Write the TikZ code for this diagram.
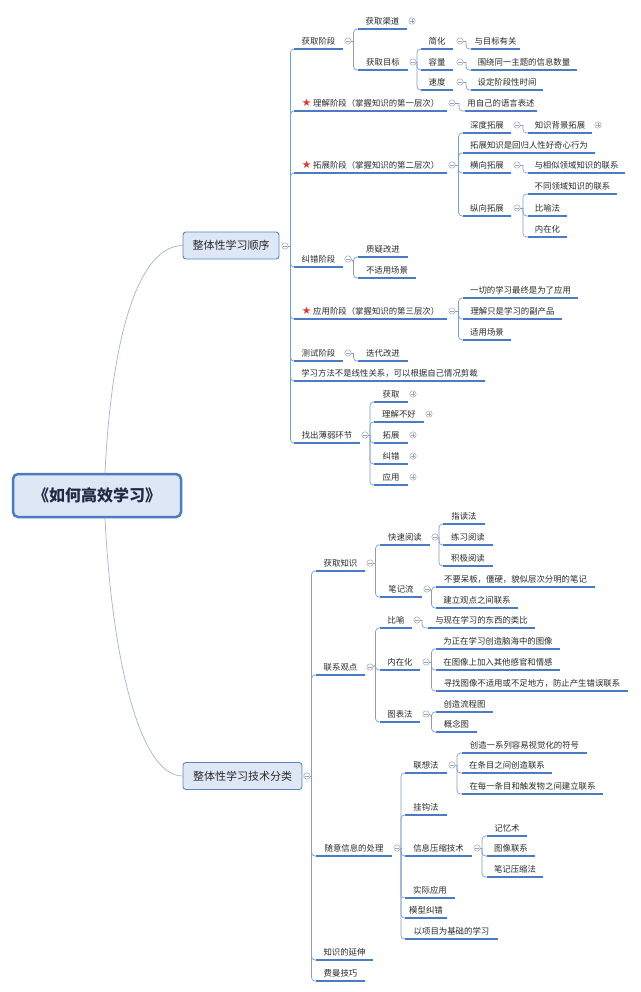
\documentclass[tikz,border=0pt]{standalone}
\usepackage{fontspec}
\setmainfont{Noto Sans CJK SC}
\newfontfamily\dejavu{DejaVu Sans}
\definecolor{txt}{HTML}{2B2B2B}
\definecolor{roottxt}{HTML}{1F2A44}
\definecolor{ulc}{HTML}{4A7BC4}
\definecolor{lc}{HTML}{7D9FD4}
\definecolor{cc}{HTML}{9AA6B8}
\definecolor{rcc}{HTML}{9FB6DC}
\definecolor{boxf}{HTML}{DDE7F5}
\definecolor{boxd}{HTML}{5A86C5}
\definecolor{rootd}{HTML}{4A7CC0}
\definecolor{starc}{HTML}{E0352B}
\newcommand\redstar{{\dejavu\fontsize{10.5}{10}\selectfont\color{starc}★}\hspace{2pt}}
\newcommand\tn[5]{\node[tp, minimum width={(#3-#2)*1pt}] (#1) at (#2,#4) {#5};
  \draw[ul] (#1.south west) -- (#1.south east);}
\newcommand\cmin[3]{\node[cminus] (#1) at (#2,#3) {};}
\newcommand\cpls[3]{\node[cplus] (#1) at (#2,#3) {};}
\newcommand\fan[4]{\coordinate (#1s) at (#2,#3);
  \draw[conn] (#1.east) -- (#1s);
  \foreach \ch in {#4} {\draw[conn] (#1s) |- (\ch.south west);}}
\begin{document}
\begin{tikzpicture}[x=1pt,y=-1pt,
  tp/.style={anchor=south west, inner xsep=1pt, inner ysep=2.5pt, outer sep=0pt,
    text height=7.5pt, text depth=2.3pt, font=\fontsize{8.4}{10}\selectfont, text=txt},
  ul/.style={draw=ulc, line width=1.5pt},
  conn/.style={draw=lc, line width=0.7pt, rounded corners=3.5pt},
  cbase/.style={circle, draw=cc, line width=0.5pt, fill=white, minimum size=6.4pt, inner sep=0pt, outer sep=0pt},
  cminus/.style={cbase, path picture={\draw[cc,line width=0.5pt] ([xshift=-1.7pt]path picture bounding box.center) -- ([xshift=1.7pt]path picture bounding box.center);}},
  cplus/.style={cbase, path picture={\draw[cc,line width=0.5pt] ([xshift=-1.7pt]path picture bounding box.center) -- ([xshift=1.7pt]path picture bounding box.center) ([yshift=-1.7pt]path picture bounding box.center) -- ([yshift=1.7pt]path picture bounding box.center);}},
  brbox/.style={draw=boxd, fill=boxf, line width=0.9pt, rounded corners=3pt, minimum height=27pt, inner sep=0pt, font=\fontsize{11}{13}\selectfont, text=txt},
  rootbox/.style={draw=rootd, fill=boxf, line width=2.5pt, rounded corners=5pt, minimum width=168pt, minimum height=43pt, inner sep=0pt, font=\bfseries\fontsize{16}{18}\selectfont, text=roottxt},
  rc/.style={draw=rcc, line width=0.7pt}
]
\fill[white] (0,0) rectangle (640,992);
\useasboundingbox (0,0) rectangle (640,992);

% root and branches
\node[rootbox] (root) at (97,495.5) {《如何高效学习》};
\node[brbox, minimum width=96pt] (b1) at (231,245.5) {整体性学习顺序};
\node[brbox, minimum width=119pt] (b2) at (242.5,776) {整体性学习技术分类};
\draw[rc] ([xshift=8pt]root.north) .. controls (112,330) and (140,246) .. (b1.west);
\draw[rc] ([xshift=8pt]root.south) .. controls (112,660) and (140,776) .. (b2.west);
\cmin{b1o}{285}{246}
\cmin{b2o}{307}{776}

% ---------- branch 1
\tn{a1}{294}{343}{49}{获取阶段} \cmin{a1o}{348}{41}
\tn{a1a}{358}{407}{29}{获取渠道} \cpls{a1ap}{412}{21}
\tn{a1b}{358}{408}{70}{获取目标} \cmin{a1bo}{413}{62}
\tn{a1b1}{421}{453}{49}{简化} \cmin{a1b1o}{460}{41}
\tn{a1b1a}{471}{520}{49}{与目标有关}
\tn{a1b2}{421}{453}{70}{容量} \cmin{a1b2o}{460}{62}
\tn{a1b2a}{471}{577}{70}{围绕同一主题的信息数量}
\tn{a1b3}{421}{453}{90}{速度} \cmin{a1b3o}{460}{82}
\tn{a1b3a}{471}{543}{90}{设定阶段性时间}

\tn{a2}{294}{447}{111}{\redstar 理解阶段（掌握知识的第一层次）} \cmin{a2o}{452}{103}
\tn{a2a}{465}{537}{111}{用自己的语言表述}

\tn{a3}{294}{447}{173}{\redstar 拓展阶段（掌握知识的第二层次）} \cmin{a3o}{452}{165}
\tn{a3a}{463}{511}{133}{深度拓展} \cmin{a3ao}{517}{125}
\tn{a3a1}{528}{592}{133}{知识背景拓展} \cpls{a3a1p}{598}{125}
\tn{a3b}{463}{595}{153}{拓展知识是回归人性好奇心行为}
\tn{a3c}{463}{511}{173}{横向拓展} \cmin{a3co}{517}{165}
\tn{a3c1}{528}{625}{173}{与相似领域知识的联系}
\tn{a3d}{463}{511}{216}{纵向拓展} \cmin{a3do}{517}{208}
\tn{a3d1}{528}{617}{194}{不同领域知识的联系}
\tn{a3d2}{528}{567}{216}{比喻法}
\tn{a3d3}{528}{567}{237}{内在化}

\tn{a4}{294}{343}{267}{纠错阶段} \cmin{a4o}{348}{259}
\tn{a4a}{358}{408}{257}{质疑改进}
\tn{a4b}{358}{416}{278}{不适用场景}

\tn{a5}{294}{447}{319}{\redstar 应用阶段（掌握知识的第三层次）} \cmin{a5o}{452}{311}
\tn{a5a}{463}{578}{298}{一切的学习最终是为了应用}
\tn{a5b}{463}{562}{319}{理解只是学习的副产品}
\tn{a5c}{463}{511}{340}{适用场景}

\tn{a6}{294}{343}{361}{测试阶段} \cmin{a6o}{348}{353}
\tn{a6a}{358}{408}{361}{迭代改进}

\tn{a7}{294}{485}{381}{学习方法不是线性关系，可以根据自己情况剪裁}

\tn{a8}{294}{360}{443}{找出薄弱环节} \cmin{a8o}{365}{435}
\tn{a8a}{374}{408}{402}{获取} \cpls{a8ap}{413}{394}
\tn{a8b}{374}{424}{422}{理解不好} \cpls{a8bp}{429}{414}
\tn{a8c}{374}{408}{443}{拓展} \cpls{a8cp}{413}{435}
\tn{a8d}{374}{408}{464}{纠错} \cpls{a8dp}{413}{456}
\tn{a8e}{374}{408}{485}{应用} \cpls{a8ep}{413}{477}

\fan{b1o}{290.5}{246}{a1,a2,a3,a4,a5,a6,a7,a8}
\fan{a1o}{353.5}{41}{a1a,a1b}
\fan{a1bo}{417}{62}{a1b1,a1b2,a1b3}
\fan{a1b1o}{466}{41}{a1b1a}
\fan{a1b2o}{466}{62}{a1b2a}
\fan{a1b3o}{466}{82}{a1b3a}
\fan{a2o}{459}{103}{a2a}
\fan{a3o}{458.5}{165}{a3a,a3b,a3c,a3d}
\fan{a3ao}{523}{125}{a3a1}
\fan{a3co}{523}{165}{a3c1}
\fan{a3do}{523}{208}{a3d1,a3d2,a3d3}
\fan{a4o}{353.5}{262}{a4a,a4b}
\fan{a5o}{458.5}{311}{a5a,a5b,a5c}
\fan{a6o}{353.5}{353}{a6a}
\fan{a8o}{370}{435}{a8a,a8b,a8c,a8d,a8e}

% ---------- branch 2
\tn{c1}{316}{365}{571}{获取知识} \cmin{c1o}{370}{563}
\tn{c1a}{380}{430}{545}{快速阅读} \cmin{c1ao}{435}{537}
\tn{c1a1}{443}{485}{524}{指读法}
\tn{c1a2}{443}{493}{545}{练习阅读}
\tn{c1a3}{443}{493}{566}{积极阅读}
\tn{c1b}{380}{422}{597}{笔记流} \cmin{c1bo}{427}{589}
\tn{c1b1}{436}{595}{587}{不要呆板，僵硬，貌似层次分明的笔记}
\tn{c1b2}{436}{518}{608}{建立观点之间联系}

\tn{c2}{316}{365}{675}{联系观点} \cmin{c2o}{370}{667}
\tn{c2a}{380}{412}{628}{比喻} \cmin{c2ao}{417}{620}
\tn{c2a1}{428}{535}{628}{与现在学习的东西的类比}
\tn{c2b}{380}{420}{670}{内在化} \cmin{c2bo}{426}{662}
\tn{c2b1}{436}{560}{649}{为正在学习创造脑海中的图像}
\tn{c2b2}{436}{560}{670}{在图像上加入其他感官和情感}
\tn{c2b3}{436}{628}{691}{寻找图像不适用或不足地方，防止产生错误联系}
\tn{c2c}{380}{420}{722}{图表法} \cmin{c2co}{426}{714}
\tn{c2c1}{436}{493}{712}{创造流程图}
\tn{c2c2}{436}{477}{732}{概念图}

\tn{c3}{316}{392}{856}{随意信息的处理} \cmin{c3o}{397}{848}
\tn{c3a}{405}{447}{773}{联想法} \cmin{c3ao}{452}{765}
\tn{c3a1}{462}{587}{753}{创造一系列容易视觉化的符号}
\tn{c3a2}{462}{552}{773}{在条目之间创造联系}
\tn{c3a3}{462}{603}{794}{在每一条目和触发物之间建立联系}
\tn{c3b}{405}{447}{815}{挂钩法}
\tn{c3c}{405}{472}{856}{信息压缩技术} \cmin{c3co}{477}{848}
\tn{c3c1}{487}{527}{836}{记忆术}
\tn{c3c2}{487}{535}{856}{图像联系}
\tn{c3c3}{487}{543}{877}{笔记压缩法}
\tn{c3d}{405}{455}{898}{实际应用}
\tn{c3e}{405}{447}{918}{模型纠错}
\tn{c3f}{405}{498}{939}{以项目为基础的学习}

\tn{c4}{316}{373}{960}{知识的延伸}
\tn{c5}{316}{365}{981}{费曼技巧}

\fan{b2o}{311.5}{776}{c1,c2,c3,c4,c5}
\fan{c1o}{375.5}{563}{c1a,c1b}
\fan{c1ao}{439}{537}{c1a1,c1a2,c1a3}
\fan{c1bo}{431.5}{592}{c1b1,c1b2}
\fan{c2o}{375.5}{665}{c2a,c2b,c2c}
\fan{c2ao}{422}{620}{c2a1}
\fan{c2bo}{431.5}{662}{c2b1,c2b2,c2b3}
\fan{c2co}{431.5}{717}{c2c1,c2c2}
\fan{c3o}{401}{848}{c3a,c3b,c3c,c3d,c3e,c3f}
\fan{c3ao}{457}{765}{c3a1,c3a2,c3a3}
\fan{c3co}{482}{848}{c3c1,c3c2,c3c3}
\end{tikzpicture}
\end{document}
